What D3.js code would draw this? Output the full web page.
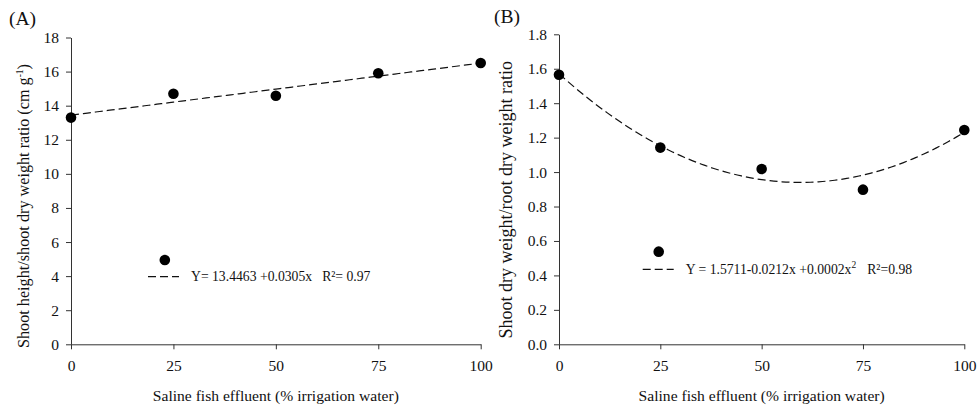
<!DOCTYPE html>
<html>
<head>
<meta charset="utf-8">
<script src="https://cdn.jsdelivr.net/npm/d3@7"></script>
<style>
  body { margin: 0; background: #fff; }
  svg, svg text { font-family: 'Liberation Serif', 'Times New Roman', Times, serif !important; }
</style>
</head>
<body>
<div id="chart"></div>
<script>
const doses = [0, 25, 50, 75, 100];
const ratioA = [13.3, 14.7, 14.58, 15.9, 16.5];
const ratioB = [1.565, 1.142, 1.018, 0.898, 1.244];
// the stray legend markers
const outlierA = [22.9, 4.95];
const outlierB = [24.6, 0.538];

// regression coefficients (c0, c1, c2)
const trendA = [13.4463, 0.0305, 0];
const trendB = [1.5711, -0.0212, 0.000178];

const xTicks = [0, 25, 50, 75, 100];
const yTicksA = [0, 2, 4, 6, 8, 10, 12, 14, 16, 18];
const yTicksB = [0, 0.2, 0.4, 0.6, 0.8, 1.0, 1.2, 1.4, 1.6, 1.8];

const W = 979, H = 405;
const svg = d3.select("#chart").append("svg")
  .attr("width", W).attr("height", H);

function panel(opt) {
  const x = d3.scaleLinear().domain([0, 100]).range(opt.xr);
  const y = d3.scaleLinear().domain(opt.yd).range(opt.yr);
  const g = svg.append("g");

  const xa = g.append("g")
    .attr("transform", `translate(0,${opt.yr[0]})`)
    .call(d3.axisBottom(x).tickValues(xTicks).tickSize(5).tickSizeOuter(0).tickPadding(11));
  const ya = g.append("g")
    .attr("transform", `translate(${opt.xr[0]},0)`)
    .call(d3.axisLeft(y).tickValues(opt.yTicks).tickSize(5).tickSizeOuter(0)
      .tickPadding(7).tickFormat(opt.fmt));
  [xa, ya].forEach(a => {
    a.attr("font-family", null);
    a.selectAll("path,line").attr("stroke", "#333").attr("stroke-width", 1);
    a.selectAll("text").attr("font-size", 15.5).attr("fill", "#111");
  });

  // trend curve
  const c = opt.trend;
  const xs = d3.range(0, 100.5, 1);
  const line = d3.line().x(d => x(d)).y(d => y(c[0] + c[1] * d + c[2] * d * d));
  g.append("path").datum(xs)
    .attr("d", line)
    .attr("fill", "none")
    .attr("stroke", "#111")
    .attr("stroke-width", 1.2)
    .attr("stroke-dasharray", "8,4");

  // points
  g.selectAll("circle.pt").data(doses).enter().append("circle")
    .attr("class", "pt")
    .attr("cx", d => x(d))
    .attr("cy", (d, i) => y(opt.values[i]))
    .attr("r", 5.3)
    .attr("fill", "#000");
  g.append("circle")
    .attr("cx", x(opt.outlier[0])).attr("cy", y(opt.outlier[1]))
    .attr("r", 5.3).attr("fill", "#000");

  // legend
  g.append("line")
    .attr("x1", opt.leg[0]).attr("x2", opt.leg[0] + 31)
    .attr("y1", opt.leg[1]).attr("y2", opt.leg[1])
    .attr("stroke", "#111").attr("stroke-width", 1.2)
    .attr("stroke-dasharray", "8,4");
  opt.legText(g.append("text")
    .attr("x", opt.leg[0] + 43).attr("y", opt.leg[1] + 4.5)
    .attr("font-size", 13.7).attr("fill", "#111"));

  // titles
  g.append("text")
    .attr("x", (opt.xr[0] + opt.xr[1]) / 2).attr("y", 401)
    .attr("text-anchor", "middle").attr("font-size", 15.6).attr("fill", "#111")
    .text("Saline fish effluent (% irrigation water)");
  const yt = g.append("text")
    .attr("transform", `translate(${opt.ytX},${opt.ytY}) rotate(-90)`)
    .attr("font-size", opt.ytSize).attr("fill", "#111");
  opt.yTitle(yt);

  g.append("text")
    .attr("x", opt.lab[0]).attr("y", opt.lab[1])
    .attr("font-size", 19.5).attr("fill", "#111")
    .text(opt.label);
}

panel({
  xr: [71, 480.7], yr: [344.3, 37.5], yd: [0, 18],
  yTicks: yTicksA, fmt: d3.format("d"),
  values: ratioA, outlier: outlierA, trend: trendA,
  leg: [148, 276.7],
  legText: t => {
    t.append("tspan").text("Y= 13.4463 +0.0305x");
    t.append("tspan").attr("dx", 10).text("R\u00b2= 0.97");
  },
  ytX: 29, ytY: 348, ytSize: 16.2,
  yTitle: t => {
    t.append("tspan").text("Shoot height/shoot dry weight ratio (cm g");
    t.append("tspan").attr("font-size", 9.5).attr("dy", -6.5).text("-1");
    t.append("tspan").attr("dy", 6.5).text(")");
  },
  lab: [9, 25], label: "(A)"
});

panel({
  xr: [559, 964.3], yr: [344.3, 34.3], yd: [0, 1.8],
  yTicks: yTicksB, fmt: d3.format(".1f"),
  values: ratioB, outlier: outlierB, trend: trendB,
  leg: [642.7, 269.3],
  legText: t => {
    t.append("tspan").text("Y = 1.5711-0.0212x +0.0002x");
    t.append("tspan").attr("font-size", 9.5).attr("dy", -6).text("2");
    t.append("tspan").attr("dx", 11).attr("dy", 6).text("R\u00b2=0.98");
  },
  ytX: 512, ytY: 338.5, ytSize: 18,
  yTitle: t => t.text("Shoot dry weight/root dry weight ratio"),
  lab: [494, 23], label: "(B)"
});
</script>
</body>
</html>
